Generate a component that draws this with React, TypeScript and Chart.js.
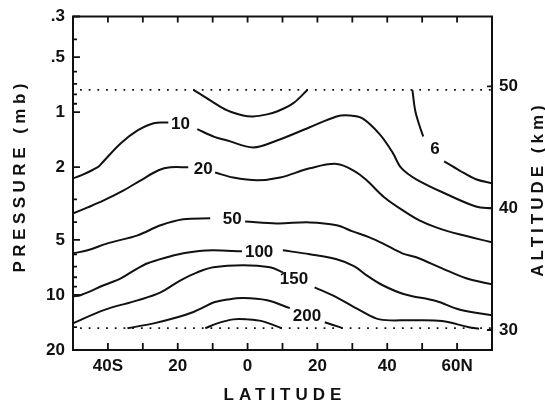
import React, { useEffect, useRef } from 'react';
import { Chart, registerables } from 'chart.js';

Chart.register(...registerables);

const FONT = '"Liberation Sans", Arial, Helvetica, sans-serif';
const INK = '#111111';

// ---- axis ticks ----
const latTickValues = [-40, -20, 0, 20, 40, 60];
const latTickLabels = ['40S', '20', '0', '20', '40', '60N'];
const latMinorTicks = [-40, -30, -20, -10, 0, 10, 20, 30, 40, 50, 60];
const pressureTickValues = [0.3, 0.5, 1, 2, 5, 10, 20];
const pressureTickLabels = ['.3', '.5', '1', '2', '5', '10', '20'];
const pressureMinorTicks = [0.4, 0.6, 0.7, 0.8, 0.9, 3, 4, 6, 7, 8, 9, 15];
const altitudeTickValues = [30, 40, 50];
const boundaryPressures = [0.755, 15.2];

// ---- contour segments (latitude, pressure mb) ----
const cTopLat = [-15.5, -10.7, -5.8, -1.3, 1.6, 5.6, 8.4, 13.0, 17.2];
const cTopP = [0.755, 0.863, 0.979, 1.043, 1.056, 1.029, 0.992, 0.896, 0.755];

const c10aLat = [-50, -47.7, -42.9, -41.5, -36.3, -31.5, -26.9, -22.7];
const c10aP = [2.3, 2.22, 2.0, 1.88, 1.48, 1.26, 1.15, 1.14];
const c10bLat = [-14.4, -9.3, -5.8, 1.6, 8.4, 17.8, 25.5, 29.2, 32.9, 37.8, 41.5, 44.0, 48.3, 57.7, 65.4, 70];
const c10bP = [1.24, 1.37, 1.43, 1.56, 1.43, 1.21, 1.056, 1.043, 1.083, 1.32, 1.66, 2.02, 2.33, 2.85, 3.28, 3.36];

const c20aLat = [-50, -45.8, -41.2, -35.5, -30.6, -25.5, -22.1, -17.0];
const c20aP = [3.58, 3.32, 3.04, 2.68, 2.36, 2.08, 2.005, 2.005];
const c20bLat = [-9.3, -4.1, 2.7, 9.3, 17.8, 25.5, 30.6, 34.1, 39.2, 44.9, 49.2, 54.0, 60.6, 70];
const c20bP = [2.14, 2.28, 2.36, 2.28, 2.03, 1.92, 2.1, 2.36, 2.93, 3.49, 3.91, 4.27, 4.66, 5.15];

const c50aLat = [-50, -45.8, -40.1, -31.5, -24.9, -18.4, -10.7];
const c50aP = [5.92, 5.7, 5.22, 4.72, 4.16, 3.86, 3.81];
const c50bLat = [-0.7, 8.4, 17.8, 25.5, 30.1, 34.9, 38.7, 44.3, 48.3, 55.7, 62.6, 70];
const c50bP = [3.96, 4.06, 4.01, 4.16, 4.49, 4.84, 5.22, 5.92, 6.22, 7.15, 8.11, 8.74];

const c100aLat = [-50, -47.7, -41.2, -36.3, -31.5, -28.6, -24.1, -18.4, -14.4, -9.8, -1.6];
const c100aP = [10.2, 10.0, 8.85, 8.11, 7.15, 6.71, 6.3, 5.92, 5.77, 5.7, 5.77];
const c100bLat = [10.1, 17.8, 25.5, 30.6, 34.1, 38.7, 44.9, 54.0, 60.6, 70];
const c100bP = [5.7, 5.99, 6.38, 6.97, 7.81, 8.85, 9.91, 10.8, 12.0, 12.9];

const c150aLat = [-50, -41.2, -31.5, -24.9, -19.2, -14.4, -9.8, -1.3, 6.4, 10.1];
const c150aP = [14.3, 12.1, 10.7, 9.67, 8.31, 7.52, 7.06, 6.88, 7.06, 7.52];
const c150bLat = [19.2, 25.5, 32.1, 37.8, 47.2, 55.7, 63.4, 66.3];
const c150bP = [9.08, 10.3, 12.1, 13.6, 13.75, 13.9, 15.0, 15.3];

const c200aLat = [-34.4, -26.9, -20.1, -15.5, -12.7, -9.8, -5.8, -1.3, 5.6, 12.1];
const c200aP = [15.2, 14.3, 13.25, 12.4, 11.7, 11.0, 10.6, 10.4, 10.7, 11.8];
const c200bLat = [22.1, 26.4, 27.2];
const c200bP = [14.1, 15.0, 15.2];

const cInnerLat = [-12.1, -8.7, -4.1, -0.1, 4.1, 9.8];
const cInnerP = [15.2, 14.3, 13.6, 13.6, 13.9, 15.2];

const c6aLat = [47.2, 48.0, 49.2, 50.3];
const c6aP = [0.755, 0.98, 1.18, 1.36];
const c6bLat = [56.3, 60.6, 65.4, 70];
const c6bP = [1.86, 2.08, 2.33, 2.45];

// ---- contour labels ----
const labelTexts = ['10', '20', '50', '100', '150', '200', '6'];
const labelLats = [-19.2, -12.7, -4.4, 3.3, 13.3, 17.0, 53.7];
const labelPs = [1.16, 2.06, 3.86, 5.85, 8.21, 13.1, 1.6];

const segments: [number[], number[]][] = [
  [cTopLat, cTopP],
  [c10aLat, c10aP], [c10bLat, c10bP],
  [c20aLat, c20aP], [c20bLat, c20bP],
  [c50aLat, c50aP], [c50bLat, c50bP],
  [c100aLat, c100aP], [c100bLat, c100bP],
  [c150aLat, c150aP], [c150bLat, c150bP],
  [c200aLat, c200aP], [c200bLat, c200bP],
  [cInnerLat, cInnerP],
  [c6aLat, c6aP], [c6bLat, c6bP],
];

function spacedText(ctx: CanvasRenderingContext2D, text: string, cx: number, cy: number, spacing: number, rot: number) {
  ctx.save();
  ctx.translate(cx, cy);
  ctx.rotate(rot);
  (ctx as any).letterSpacing = spacing + 'px';
  ctx.textAlign = 'left';
  ctx.textBaseline = 'middle';
  const w = ctx.measureText(text).width - spacing;
  ctx.fillText(text, -w / 2, 0);
  ctx.restore();
}

const decorPlugin = {
  id: 'decor',
  afterDatasetsDraw(chart: any) {
    const { ctx, chartArea: a, scales } = chart;
    const xs = scales.x, ys = scales.y, y2 = scales.y2;
    ctx.save();
    // contour labels
    ctx.fillStyle = INK;
    ctx.font = `bold 17px ${FONT}`;
    ctx.textAlign = 'center';
    ctx.textBaseline = 'middle';
    labelTexts.forEach((t, i) => {
      ctx.fillText(t, xs.getPixelForValue(labelLats[i]), ys.getPixelForValue(labelPs[i]));
    });
    // frame
    ctx.strokeStyle = INK;
    ctx.lineWidth = 2;
    ctx.strokeRect(a.left, a.top, a.right - a.left, a.bottom - a.top);
    // ticks
    ctx.lineWidth = 1.8;
    ctx.beginPath();
    latMinorTicks.forEach((v) => {
      const px = xs.getPixelForValue(v);
      ctx.moveTo(px, a.bottom);
      ctx.lineTo(px, a.bottom - 7);
      ctx.moveTo(px, a.top);
      ctx.lineTo(px, a.top + 6);
    });
    pressureTickValues.forEach((v) => {
      const py = ys.getPixelForValue(v);
      ctx.moveTo(a.left, py);
      ctx.lineTo(a.left + 7, py);
    });
    pressureMinorTicks.forEach((v) => {
      const py = ys.getPixelForValue(v);
      ctx.moveTo(a.left, py);
      ctx.lineTo(a.left + 4, py);
    });
    altitudeTickValues.forEach((v) => {
      const py = y2.getPixelForValue(v);
      ctx.moveTo(a.right, py);
      ctx.lineTo(a.right - 5, py);
    });
    ctx.stroke();
    ctx.restore();
  },
  afterDraw(chart: any) {
    const { ctx, chartArea: a } = chart;
    ctx.save();
    ctx.fillStyle = INK;
    ctx.font = `bold 17px ${FONT}`;
    spacedText(ctx, 'PRESSURE (mb)', 20, 178, 4.5, -Math.PI / 2);
    spacedText(ctx, 'ALTITUDE (km)', 538, 191, 4, -Math.PI / 2);
    spacedText(ctx, 'LATITUDE', (a.left + a.right) / 2, 395, 5, 0);
    ctx.restore();
  },
};

const tickFont = { family: FONT, size: 17, weight: 'bold' as const, lineHeight: 1 };

export default function App() {
  const ref = useRef<HTMLCanvasElement | null>(null);
  useEffect(() => {
    if (!ref.current) return;
    const datasets: any[] = segments.map(([lats, ps]) => ({
      data: lats.map((v, i) => ({ x: v, y: ps[i] })),
      showLine: true,
      borderColor: INK,
      borderWidth: 2,
      pointRadius: 0,
      tension: 0.35,
      fill: false,
    }));
    boundaryPressures.forEach((p) => {
      datasets.push({
        data: [{ x: -48, y: p }, { x: 70, y: p }],
        showLine: true,
        borderColor: INK,
        borderWidth: 1.8,
        borderDash: [1.8, 6.9],
        pointRadius: 0,
        fill: false,
      });
    });
    const chart = new Chart(ref.current, {
      type: 'scatter',
      data: { datasets },
      options: {
        responsive: false,
        animation: false,
        devicePixelRatio: 1,
        layout: { padding: { top: 16, left: 0, right: 0, bottom: 0 } },
        plugins: { legend: { display: false }, tooltip: { enabled: false } },
        scales: {
          x: {
            type: 'linear',
            min: -50,
            max: 70,
            grid: { display: false, drawTicks: false },
            border: { display: false },
            afterBuildTicks: (s: any) => { s.ticks = latTickValues.map((v) => ({ value: v })); },
            ticks: {
              padding: 8, color: INK, font: tickFont, autoSkip: false, maxRotation: 0,
              callback: (_v: any, i: number) => latTickLabels[i],
            },
            afterFit: (s: any) => { s.height = 53; },
          },
          y: {
            type: 'logarithmic',
            position: 'left',
            min: 0.3,
            max: 20,
            reverse: true,
            grid: { display: false, drawTicks: false },
            border: { display: false },
            afterBuildTicks: (s: any) => { s.ticks = pressureTickValues.map((v) => ({ value: v })); },
            ticks: {
              padding: 8, color: INK, font: tickFont, autoSkip: false,
              callback: (_v: any, i: number) => pressureTickLabels[i],
            },
            afterFit: (s: any) => { s.width = 73; },
          },
          y2: {
            type: 'linear',
            position: 'right',
            min: 28.36,
            max: 55.74,
            grid: { display: false, drawTicks: false },
            border: { display: false },
            afterBuildTicks: (s: any) => { s.ticks = altitudeTickValues.map((v) => ({ value: v })); },
            ticks: {
              padding: 7, color: INK, font: tickFont, autoSkip: false,
              callback: (v: any) => String(v),
            },
            afterFit: (s: any) => { s.width = 53; },
          },
        },
      } as any,
      plugins: [decorPlugin],
    });
    return () => chart.destroy();
  }, []);
  return (
    <div style={{ position: 'fixed', left: 0, top: 0, width: 545, height: 403, background: '#fff' }}>
      <canvas ref={ref} width={545} height={403} style={{ display: 'block' }} />
    </div>
  );
}
